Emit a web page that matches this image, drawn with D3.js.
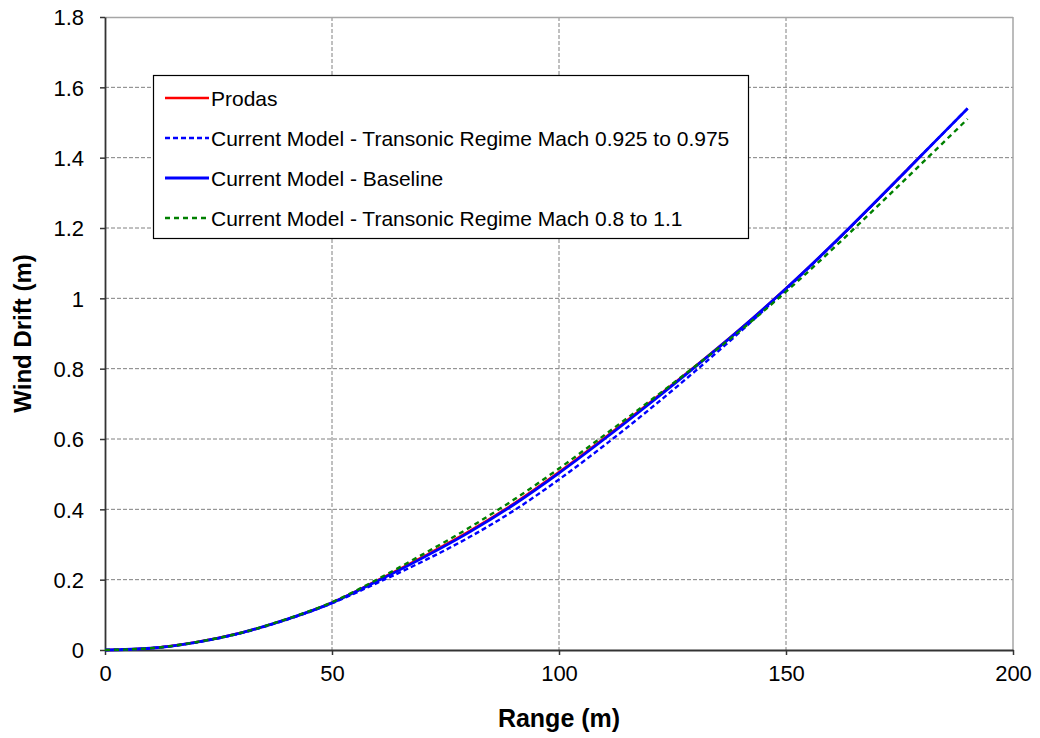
<!DOCTYPE html>
<html>
<head>
<meta charset="utf-8">
<script src="https://cdn.jsdelivr.net/npm/d3@7"></script>
<style>
  html, body { margin: 0; padding: 0; background: #ffffff; }
  svg { display: block; font-family: Arial, "Liberation Sans", sans-serif; }
</style>
</head>
<body>
<svg id="chart" width="1040" height="738"></svg>
<script>
// Range (m) sample points
const ranges = [0, 10, 20, 30, 40, 50, 60, 70, 80, 90, 100, 110, 120, 130, 140, 150, 160, 170, 180, 190];

// Wind drift (m) for each model
const prodas = [0, 0.005, 0.022, 0.049, 0.087, 0.135, 0.198, 0.265, 0.336, 0.416, 0.506, 0.603, 0.704, 0.807, 0.914, 1.028, 1.150, 1.278, 1.409];
const transonicNarrow = [0, 0.005, 0.021, 0.048, 0.086, 0.133, 0.191, 0.252, 0.319, 0.396, 0.485, 0.582, 0.685, 0.793, 0.906, 1.025, 1.149, 1.278, 1.409, 1.540];
const baseline = [0, 0.005, 0.022, 0.049, 0.087, 0.134, 0.196, 0.262, 0.333, 0.413, 0.503, 0.600, 0.701, 0.805, 0.913, 1.028, 1.150, 1.278, 1.409, 1.540];
const transonicWide = [0, 0.005, 0.022, 0.049, 0.088, 0.136, 0.201, 0.272, 0.346, 0.427, 0.516, 0.611, 0.708, 0.807, 0.909, 1.019, 1.137, 1.260, 1.385, 1.510];

// Axis ticks
const xTicks = [0, 50, 100, 150, 200];
const yTicks = [0, 0.2, 0.4, 0.6, 0.8, 1, 1.2, 1.4, 1.6, 1.8];

const seriesNames = [
  "Prodas",
  "Current Model - Transonic Regime Mach 0.925 to 0.975",
  "Current Model - Baseline",
  "Current Model - Transonic Regime Mach 0.8 to 1.1"
];
const seriesValues = [prodas, transonicNarrow, baseline, transonicWide];
const seriesColors = ["#ff0000", "#0000ff", "#0000ff", "#008000"];
const seriesDash = [null, "5,3", null, "5,4"];
const seriesWidth = [2.4, 2.4, 2.8, 2.4];

const svg = d3.select("#chart");
const margin = { left: 105, top: 17, right: 1040 - 1013, bottom: 738 - 650 };
const W = 1040 - margin.left - margin.right;
const H = 738 - margin.top - margin.bottom;

const x = d3.scaleLinear().domain([0, 200]).range([0, W]);
const y = d3.scaleLinear().domain([0, 1.8]).range([H, 0]);

const g = svg.append("g").attr("transform", `translate(${margin.left},${margin.top})`);

// Gridlines
g.append("g").selectAll("line")
  .data(yTicks.filter(d => d > 0 && d < 1.8))
  .join("line")
  .attr("x1", 0).attr("x2", W)
  .attr("y1", d => y(d)).attr("y2", d => y(d))
  .attr("stroke", "#808080").attr("stroke-width", 1)
  .attr("stroke-dasharray", "4,2");

g.append("g").selectAll("line")
  .data(xTicks.filter(d => d > 0 && d < 200))
  .join("line")
  .attr("x1", d => x(d)).attr("x2", d => x(d))
  .attr("y1", 0).attr("y2", H)
  .attr("stroke", "#808080").attr("stroke-width", 1)
  .attr("stroke-dasharray", "4,2");

// Top and right frame
g.append("line").attr("x1", 0).attr("x2", W).attr("y1", 0.5).attr("y2", 0.5)
  .attr("stroke", "#a6a6a6").attr("stroke-width", 1.5);
g.append("line").attr("x1", W).attr("x2", W).attr("y1", 0).attr("y2", H)
  .attr("stroke", "#a6a6a6").attr("stroke-width", 1.5);

// Axes
const fmt = d => String(+d.toFixed(1));
const xAxis = g.append("g").attr("transform", `translate(0,${H})`)
  .call(d3.axisBottom(x).tickValues(xTicks).tickSizeInner(5).tickSizeOuter(0).tickPadding(10).tickFormat(fmt));
const yAxis = g.append("g")
  .call(d3.axisLeft(y).tickValues(yTicks).tickSizeInner(5).tickSizeOuter(0).tickPadding(16).tickFormat(fmt));

[xAxis, yAxis].forEach(a => {
  a.select(".domain").attr("stroke", "#333333").attr("stroke-width", 1.8);
  a.selectAll(".tick line").attr("stroke", "#333333").attr("stroke-width", 1.5);
  a.selectAll(".tick text").attr("fill", "#000000")
    .style("font-family", "Arial, 'Liberation Sans', sans-serif")
    .style("font-size", "22px");
});
xAxis.selectAll(".tick text").attr("dy", "0.71em");
yAxis.selectAll(".tick text").attr("dy", "0.36em");

// Series lines
const line = d3.line()
  .x((d, i) => x(ranges[i]))
  .y(d => y(d))
  .curve(d3.curveMonotoneX);

seriesValues.forEach((vals, k) => {
  g.append("path")
    .datum(vals)
    .attr("fill", "none")
    .attr("stroke", seriesColors[k])
    .attr("stroke-width", seriesWidth[k])
    .attr("stroke-dasharray", seriesDash[k])
    .attr("d", line);
});

// Axis titles
svg.append("text")
  .attr("x", margin.left + W / 2).attr("y", 727)
  .attr("text-anchor", "middle")
  .style("font-size", "25px").style("font-weight", "bold")
  .text("Range (m)");

svg.append("text")
  .attr("transform", `translate(31,${margin.top + H / 2}) rotate(-90)`)
  .attr("text-anchor", "middle")
  .style("font-size", "24px").style("font-weight", "bold")
  .text("Wind Drift (m)");

// Legend
const legend = svg.append("g").attr("transform", "translate(153,75)");
legend.append("rect")
  .attr("x", 0.5).attr("y", 0.5).attr("width", 595).attr("height", 163)
  .attr("fill", "#ffffff").attr("stroke", "#000000").attr("stroke-width", 1.2);

const rowY = [23, 63, 103, 143];
seriesNames.forEach((name, k) => {
  const row = legend.append("g").attr("transform", `translate(0,${rowY[k]})`);
  row.append("line")
    .attr("x1", 12).attr("x2", 56).attr("y1", 0).attr("y2", 0)
    .attr("stroke", seriesColors[k]).attr("stroke-width", seriesWidth[k])
    .attr("stroke-dasharray", seriesDash[k]);
  row.append("text")
    .attr("x", 58).attr("y", 0).attr("dy", "0.36em")
    .style("font-size", "21px")
    .attr("fill", "#000000")
    .text(name);
});
</script>
</body>
</html>
